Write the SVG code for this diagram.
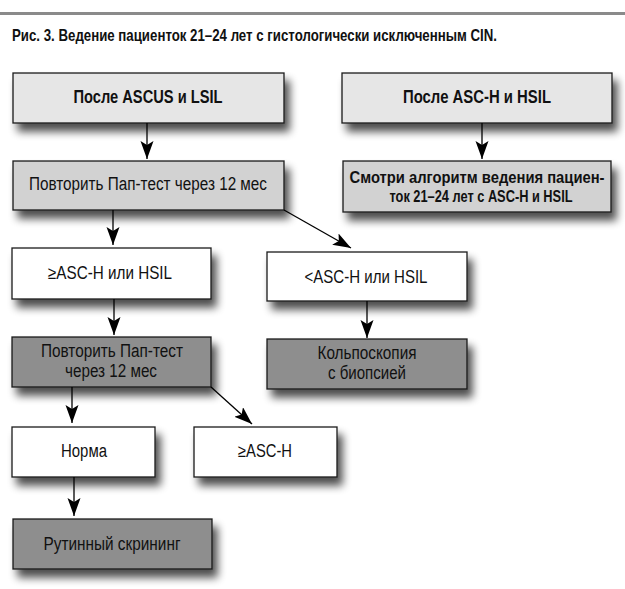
<svg xmlns="http://www.w3.org/2000/svg" width="625" height="589" viewBox="0 0 625 589">
<defs>
<filter id="sh" x="-20%" y="-30%" width="150%" height="200%">
<feGaussianBlur in="SourceAlpha" stdDeviation="4"/>
<feOffset dx="5" dy="8" result="b"/>
<feComponentTransfer><feFuncA type="linear" slope="0.7"/></feComponentTransfer>
<feMerge><feMergeNode/><feMergeNode in="SourceGraphic"/></feMerge>
</filter>
<marker id="ah" markerUnits="userSpaceOnUse" markerWidth="20" markerHeight="14" refX="18" refY="6.5" orient="auto">
<path d="M0,0 L18,6.5 L0,13 L4,6.5 z" fill="#000"/>
</marker>
</defs>
<style>
.b{stroke:#1a1a1a;stroke-width:1.3}
.l1{fill:#e6e6e6}
.l2{fill:#d2d2d2}
.dk{fill:#8e8e8e}
.wh{fill:#ffffff}
text{font-family:"Liberation Sans Narrow","Liberation Sans",Arial,sans-serif;font-size:18px;fill:#111;text-anchor:middle}
.bd{font-weight:bold;font-size:17.5px}
.sm{font-size:16px}
.c{stroke:#000;stroke-width:1.3;fill:none;marker-end:url(#ah)}
</style>
<rect x="0" y="12" width="625" height="3" fill="#8a8a8a"/>
<text x="12" y="41" class="bd" style="text-anchor:start;font-size:16.5px" textLength="485" lengthAdjust="spacingAndGlyphs">Рис. 3. Ведение пациенток 21–24 лет с гистологически исключенным CIN.</text>

<g id="n1"><rect class="b l1" x="13" y="73" width="271" height="50" filter="url(#sh)"/><text class="bd" x="148" y="103" textLength="149" lengthAdjust="spacingAndGlyphs">После ASCUS и LSIL</text></g>
<g id="n2"><rect class="b l2" x="13" y="161" width="271" height="49" filter="url(#sh)"/><text x="148" y="190" textLength="238" lengthAdjust="spacingAndGlyphs">Повторить Пап-тест через 12 мес</text></g>
<g id="n3"><rect class="b l1" x="342" y="73" width="270" height="50" filter="url(#sh)"/><text class="bd" x="477" y="103" textLength="148" lengthAdjust="spacingAndGlyphs">После ASC-H и HSIL</text></g>
<g id="n4"><rect class="b l2" x="343" y="161" width="268" height="51" filter="url(#sh)"/><text class="bd sm" x="477" y="183" textLength="255" lengthAdjust="spacingAndGlyphs">Смотри алгоритм ведения пациен-</text><text class="bd sm" x="481" y="202" textLength="183" lengthAdjust="spacingAndGlyphs">ток 21–24 лет с ASC-H и HSIL</text></g>
<g id="n5"><rect class="b wh" x="12" y="248" width="199" height="51" filter="url(#sh)"/><text x="110" y="279" textLength="124" lengthAdjust="spacingAndGlyphs">≥ASC-H или HSIL</text></g>
<g id="n6"><rect class="b dk" x="12" y="337" width="199" height="50" filter="url(#sh)"/><text x="112" y="357" textLength="142" lengthAdjust="spacingAndGlyphs">Повторить Пап-тест</text><text x="111" y="377" textLength="92" lengthAdjust="spacingAndGlyphs">через 12 мес</text></g>
<g id="n7"><rect class="b wh" x="267" y="252" width="200" height="49" filter="url(#sh)"/><text x="366" y="283" textLength="123" lengthAdjust="spacingAndGlyphs">&lt;ASC-H или HSIL</text></g>
<g id="n8"><rect class="b dk" x="267" y="339" width="200" height="50" filter="url(#sh)"/><text x="367" y="359" textLength="99" lengthAdjust="spacingAndGlyphs">Кольпоскопия</text><text x="367" y="379" textLength="78" lengthAdjust="spacingAndGlyphs">с биопсией</text></g>
<g id="n9"><rect class="b wh" x="12" y="427" width="143" height="50" filter="url(#sh)"/><text x="84" y="457" textLength="46" lengthAdjust="spacingAndGlyphs">Норма</text></g>
<g id="n10"><rect class="b wh" x="194" y="427" width="143" height="50" filter="url(#sh)"/><text x="265" y="457" textLength="54" lengthAdjust="spacingAndGlyphs">≥ASC-H</text></g>
<g id="n11"><rect class="b dk" x="13" y="519" width="199" height="50" filter="url(#sh)"/><text x="112" y="550" textLength="137" lengthAdjust="spacingAndGlyphs">Рутинный скрининг</text></g>

<g id="connectors">
<line class="c" x1="147" y1="123" x2="147" y2="159"/>
<line class="c" x1="482" y1="123" x2="482" y2="159"/>
<line class="c" x1="113" y1="210" x2="113" y2="245"/>
<line class="c" x1="284" y1="210" x2="351" y2="248"/>
<line class="c" x1="114" y1="299" x2="114" y2="335"/>
<line class="c" x1="367" y1="301" x2="367" y2="338"/>
<line class="c" x1="72" y1="387" x2="72" y2="423"/>
<line class="c" x1="211" y1="387" x2="252" y2="424"/>
<line class="c" x1="74" y1="477" x2="74" y2="516"/>
</g>
</svg>
